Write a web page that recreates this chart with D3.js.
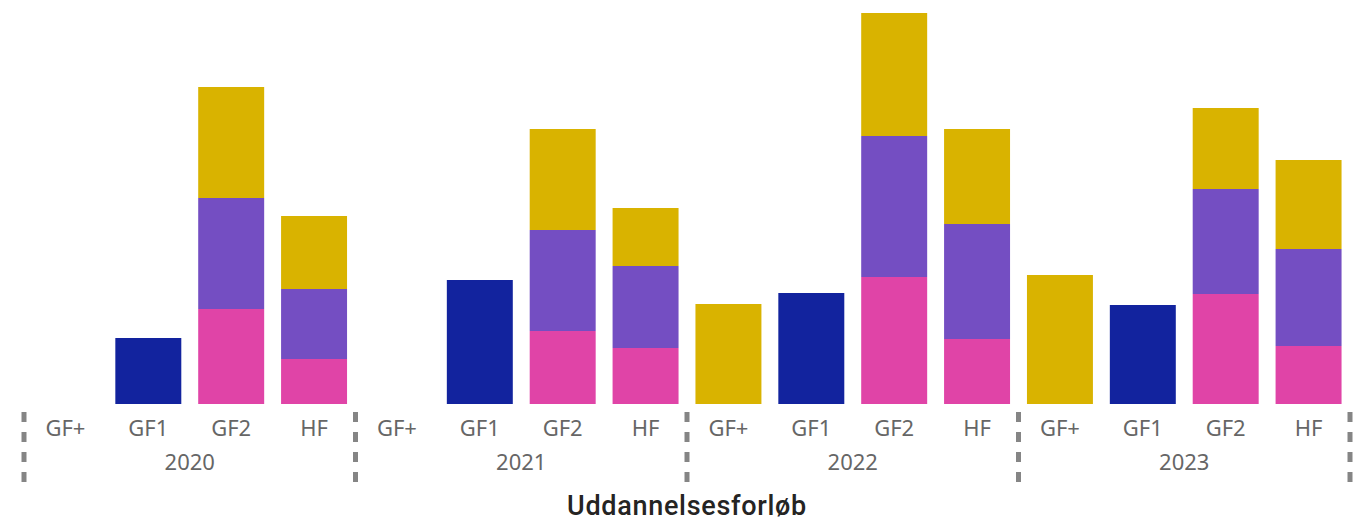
<!DOCTYPE html>
<html>
<head>
<meta charset="utf-8">
<script src="https://cdn.jsdelivr.net/npm/d3@7"></script>
<style>
  body { margin: 0; background: #fff; }
  svg { display: block; }
</style>
</head>
<body>
<svg id="chart" width="1368" height="521"></svg>
<script>
// Years and programmes on the two-level x axis
var years = ["2020", "2021", "2022", "2023"];
var programs = ["GF+", "GF1", "GF2", "HF"];

// Series values per year, in programme order (GF+, GF1, GF2, HF)
var seriesNames = ["Serie 1", "Serie 2", "Serie 3", "Serie 4"];
var serie1 = [[0, 66, 0, 0], [0, 124, 0, 0], [0, 111, 0, 0], [0, 99, 0, 0]];
var serie2 = [[0, 0, 95, 45], [0, 0, 73, 56], [0, 0, 127, 65], [0, 0, 110, 58]];
var serie3 = [[0, 0, 111, 70], [0, 0, 101, 82], [0, 0, 141, 115], [0, 0, 105, 97]];
var serie4 = [[0, 0, 111, 73], [0, 0, 101, 58], [100, 0, 123, 95], [129, 0, 81, 89]];

var colors = ["#12239E", "#E044A7", "#744EC2", "#D9B300"];

var margin = {top: 13, right: 18, bottom: 117, left: 24};
var svg = d3.select("#chart");
var width = +svg.attr("width") - margin.left - margin.right;
var height = +svg.attr("height") - margin.top - margin.bottom;

// Flatten to one row per bar
var rows = [];
years.forEach(function(yr, i) {
  programs.forEach(function(p, j) {
    rows.push({
      key: yr + "|" + p, year: yr, program: p,
      "Serie 1": serie1[i][j], "Serie 2": serie2[i][j],
      "Serie 3": serie3[i][j], "Serie 4": serie4[i][j]
    });
  });
});

var stacked = d3.stack().keys(seriesNames)(rows);

var x = d3.scaleBand()
  .domain(rows.map(function(d) { return d.key; }))
  .range([0, width])
  .paddingInner(0.204)
  .paddingOuter(0.102);

var xYear = d3.scaleBand()
  .domain(years)
  .range([0, width]);

var y = d3.scaleLinear()
  .domain([0, d3.max(rows, function(d) { return d3.sum(seriesNames, function(k) { return d[k]; }); })])
  .range([height, 0]);

var g = svg.append("g")
  .attr("transform", "translate(" + margin.left + "," + margin.top + ")");

// Stacked bars
g.selectAll(".serie")
  .data(stacked).enter()
  .append("g")
  .attr("class", "serie")
  .attr("fill", function(d, i) { return colors[i]; })
  .selectAll("rect")
  .data(function(d) { return d.filter(function(s) { return s[1] - s[0] > 0; }); })
  .enter().append("rect")
  .attr("x", function(d) { return x(d.data.key); })
  .attr("width", x.bandwidth())
  .attr("y", function(d) { return y(d[1]); })
  .attr("height", function(d) { return y(d[0]) - y(d[1]); });

// Programme labels
var axisY = height;
g.selectAll(".progLabel")
  .data(rows).enter()
  .append("text")
  .attr("class", "progLabel")
  .attr("x", function(d) { return x(d.key) + x.bandwidth() / 2; })
  .attr("y", axisY + 32)
  .attr("text-anchor", "middle")
  .style("font-family", "'Noto Sans', sans-serif")
  .style("font-size", "22px")
  .style("fill", "#666666")
  .text(function(d) { return d.program; });

// Year labels
g.selectAll(".yearLabel")
  .data(years).enter()
  .append("text")
  .attr("class", "yearLabel")
  .attr("x", function(d) { return xYear(d) + xYear.bandwidth() / 2; })
  .attr("y", axisY + 66)
  .attr("text-anchor", "middle")
  .style("font-family", "'Noto Sans', sans-serif")
  .style("font-size", "22px")
  .style("fill", "#666666")
  .text(function(d) { return d; });

// Dashed group separators
var bounds = years.map(function(d) { return xYear(d); }).concat([width]);
g.selectAll(".sep")
  .data(bounds).enter()
  .append("line")
  .attr("class", "sep")
  .attr("x1", function(d) { return d; })
  .attr("x2", function(d) { return d; })
  .attr("y1", axisY + 8)
  .attr("y2", axisY + 78)
  .style("stroke", "#858585")
  .style("stroke-width", 5)
  .style("stroke-dasharray", "10,10");

// Axis title
svg.append("text")
  .attr("x", margin.left + width / 2)
  .attr("y", 515)
  .attr("text-anchor", "middle")
  .style("font-family", "Roboto, sans-serif")
  .style("font-weight", "500")
  .style("font-size", "27px")
  .style("letter-spacing", "0.7px")
  .style("fill", "#252423")
  .text("Uddannelsesforløb");
</script>
</body>
</html>
